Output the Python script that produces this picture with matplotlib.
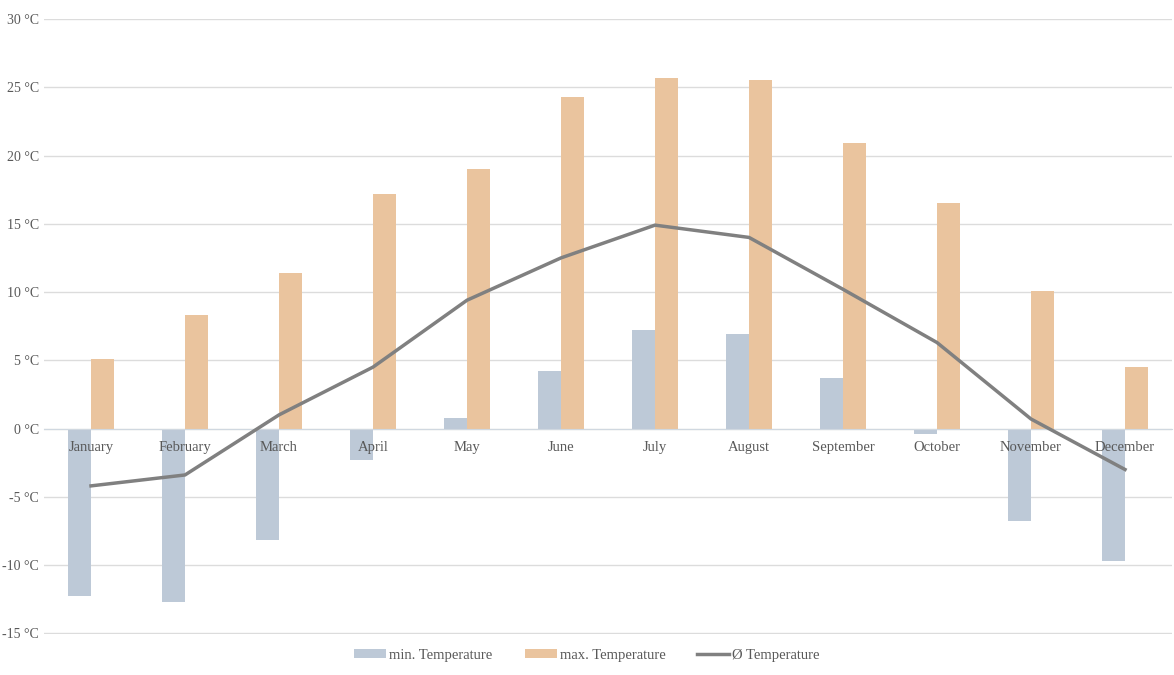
import matplotlib.pyplot as plt
import numpy as np

months = ['January', 'February', 'March', 'April', 'May', 'June', 'July',
          'August', 'September', 'October', 'November', 'December']
min_temp = [-12.3, -12.7, -8.2, -2.3, 0.8, 4.2, 7.2, 6.9, 3.7, -0.4, -6.8, -9.7]
max_temp = [5.1, 8.3, 11.4, 17.2, 19.0, 24.3, 25.7, 25.5, 20.9, 16.5, 10.1, 4.5]
avg_temp = [-4.2, -3.4, 1.0, 4.5, 9.4, 12.5, 14.9, 14.0, 10.2, 6.3, 0.7, -3.0]
y_ticks = [-15, -10, -5, 0, 5, 10, 15, 20, 25, 30]

plt.rcParams['font.family'] = ['Liberation Serif', 'DejaVu Serif']
text_color = '#595959'

fig = plt.figure(figsize=(11.74, 6.75), dpi=100)
ax = fig.add_axes([44 / 1174, 1 - 634 / 675, 1128 / 1174, 615 / 675])

x = np.arange(len(months))
w = 0.24
b1 = ax.bar(x - w / 2, min_temp, width=w, color='#bdc9d7', label='min. Temperature', zorder=2)
b2 = ax.bar(x + w / 2, max_temp, width=w, color='#eac49e', label='max. Temperature', zorder=2)
l1, = ax.plot(x, avg_temp, color='#808080', linewidth=2.5, label='Ø Temperature', zorder=3)

ax.set_xlim(-0.5, len(months) - 0.5)
ax.set_ylim(-15.05, 30)
ax.set_yticks(y_ticks)
ax.set_yticklabels([f'{t} °C' for t in y_ticks], color=text_color, fontsize=10)
ax.grid(axis='y', color='#dcdcdc', linewidth=1, zorder=0)
ax.set_axisbelow(True)

ax.spines['top'].set_visible(False)
ax.spines['right'].set_visible(False)
ax.spines['left'].set_visible(False)
ax.spines['bottom'].set_position(('data', 0))
ax.spines['bottom'].set_color('#d0d8e0')
ax.tick_params(axis='y', length=0, pad=3.5)
ax.set_xticks([])

# month names sit just under the zero line, on top of the bars
for i, m in enumerate(months):
    ax.annotate(m, (i, 0), xytext=(0, -9), textcoords='offset points',
                ha='center', va='top', color=text_color, fontsize=10.5, zorder=5)

fig.legend(handles=[b1, b2, l1], loc='center', bbox_to_anchor=(0.5, 1 - 655 / 675), ncol=3,
           frameon=False, fontsize=10.5, labelcolor=text_color, handlelength=2.2,
           handleheight=0.6, handletextpad=0.2, columnspacing=2.2)

plt.savefig('out.png', dpi=100)
